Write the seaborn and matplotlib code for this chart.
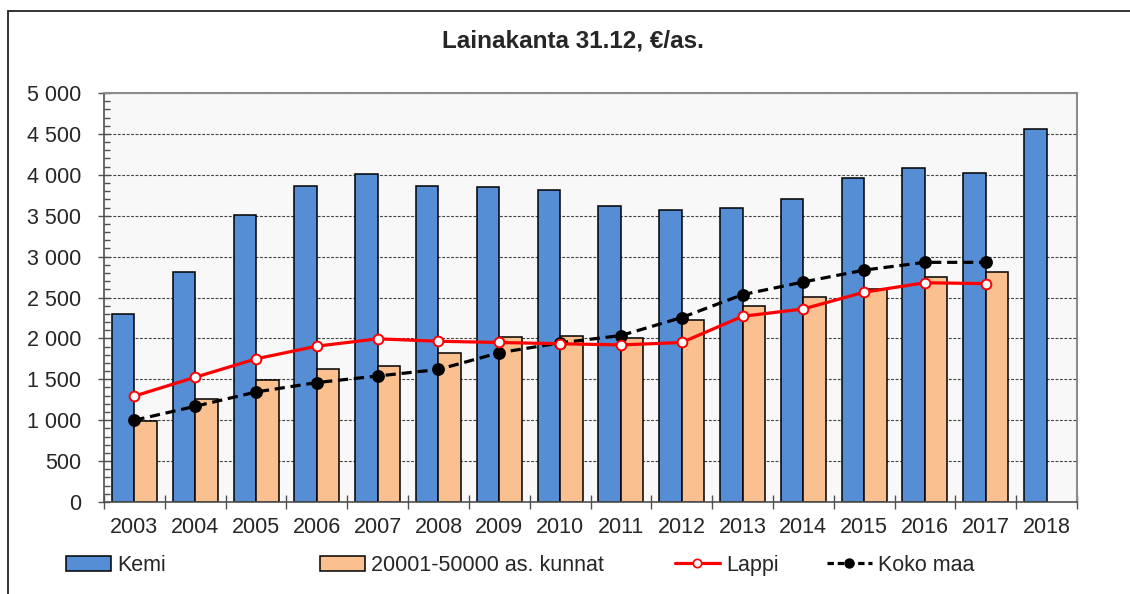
import numpy as np
import pandas as pd
import matplotlib
matplotlib.use("Agg")
import matplotlib.pyplot as plt
import seaborn as sns
from matplotlib.ticker import FuncFormatter, MultipleLocator, FixedLocator
from matplotlib.patches import Rectangle, Patch
from matplotlib.lines import Line2D

years = [str(y) for y in range(2003, 2019)]
kemi = [2300, 2815, 3510, 3860, 4015, 3860, 3850, 3810, 3615, 3570, 3595, 3705, 3955, 4080, 4025, 4565]
kunnat = [995, 1265, 1490, 1625, 1660, 1825, 2020, 2030, 2010, 2225, 2400, 2505, 2610, 2745, 2815, np.nan]
lappi = [1295, 1525, 1750, 1905, 1995, 1965, 1950, 1935, 1920, 1950, 2270, 2360, 2565, 2680, 2670, np.nan]
koko_maa = [1000, 1170, 1345, 1460, 1540, 1620, 1825, 1945, 2035, 2255, 2535, 2690, 2835, 2930, 2930, np.nan]

bar_names = ["Kemi", "20001-50000 as. kunnat"]
line_names = ["Lappi", "Koko maa"]

blue = "#558ED5"
orange = "#FAC090"

sns.set_style("white")
plt.rcParams['font.family'] = ['Liberation Sans', 'DejaVu Sans']

bars = pd.DataFrame({
    "year": years * 2,
    "value": kemi + kunnat,
    "series": [bar_names[0]] * len(years) + [bar_names[1]] * len(years),
})

fig = plt.figure(figsize=(11.3, 5.94), dpi=100)
ax = fig.add_axes([104 / 1130, 92 / 594, (1077 - 104) / 1130, (502 - 93) / 594])
ax.set_facecolor("#F8F8F8")

sns.barplot(data=bars, x="year", y="value", hue="series", order=years, hue_order=bar_names,
            palette=[blue, orange], saturation=1, width=0.74, gap=0, edgecolor="black",
            linewidth=1.1, errorbar=None, legend=False, ax=ax, zorder=2)

sns.pointplot(x=years, y=lappi, order=years, color="red", markers="o", linestyles="-",
              linewidth=2.3, markersize=7, markerfacecolor="white", markeredgecolor="red",
              markeredgewidth=1.4, errorbar=None, ax=ax, zorder=4)
sns.pointplot(x=years, y=koko_maa, order=years, color="black", markers="o", linestyles="--",
              linewidth=2.3, markersize=7.5, markerfacecolor="black", markeredgecolor="black",
              errorbar=None, ax=ax, zorder=3)
ax.lines[-1].set_dashes((3.2, 1.8))

ax.set_xlim(-0.5, len(years) - 0.5)
ax.set_ylim(0, 5000)
ax.yaxis.set_major_locator(MultipleLocator(500))
ax.yaxis.set_minor_locator(MultipleLocator(100))
ax.yaxis.set_major_formatter(FuncFormatter(lambda v, p: f"{int(v):,}".replace(",", " ")))
ax.xaxis.set_minor_locator(FixedLocator(np.arange(-0.5, len(years), 1)))
ax.set_xlabel("")
ax.set_ylabel("")

ax.tick_params(axis="y", which="major", direction="inout", length=9, width=1, color="#505050",
               labelsize=15.5, pad=12, left=True)
ax.tick_params(axis="y", which="minor", direction="in", length=4, width=1, color="#505050", left=True)
ax.tick_params(axis="x", which="major", length=0, labelsize=15.5, pad=11)
ax.tick_params(axis="x", which="minor", direction="inout", length=10, width=1, color="#505050", bottom=True)

ax.grid(axis="y", which="major", color="#404040", linestyle=(0, (2.5, 1.5)), linewidth=0.8)
ax.set_axisbelow(True)

for side in ["left", "bottom"]:
    ax.spines[side].set_color("#505050")
    ax.spines[side].set_linewidth(1.2)
for side in ["top", "right"]:
    ax.spines[side].set_color("#8C8C8C")
    ax.spines[side].set_linewidth(1.5)

fig.text(573 / 1130, 1 - 41 / 594, "Lainakanta 31.12, €/as.", ha="center", va="center",
         fontsize=17.5, fontweight="bold")

handles = [
    Patch(facecolor=blue, edgecolor="black", linewidth=1.1),
    Patch(facecolor=orange, edgecolor="black", linewidth=1.1),
    Line2D([], [], color="red", linewidth=2.3, marker="o", markersize=6,
           markerfacecolor="white", markeredgecolor="red", markeredgewidth=1.2),
    Line2D([], [], color="black", linewidth=2.3, linestyle=(0, (2, 1.2)), marker="o",
           markersize=6.5, markerfacecolor="black"),
]
labels = bar_names + line_names
x_pos = [57, 311, 666, 818]
for h, lab, xp in zip(handles, labels, x_pos):
    fig.legend([h], [lab], loc="upper left", bbox_to_anchor=(xp / 1130, 1 - 546 / 594),
               frameon=False, fontsize=15.5, handlelength=2.1, handletextpad=0.3,
               borderaxespad=0, borderpad=0.4)

fig.patches.append(Rectangle((8 / 1130, -0.1), 1.2, (594 - 11) / 594 + 0.1,
                             transform=fig.transFigure, fill=False, edgecolor="#222222",
                             linewidth=1.3))

fig.savefig("out.png", dpi=100)
